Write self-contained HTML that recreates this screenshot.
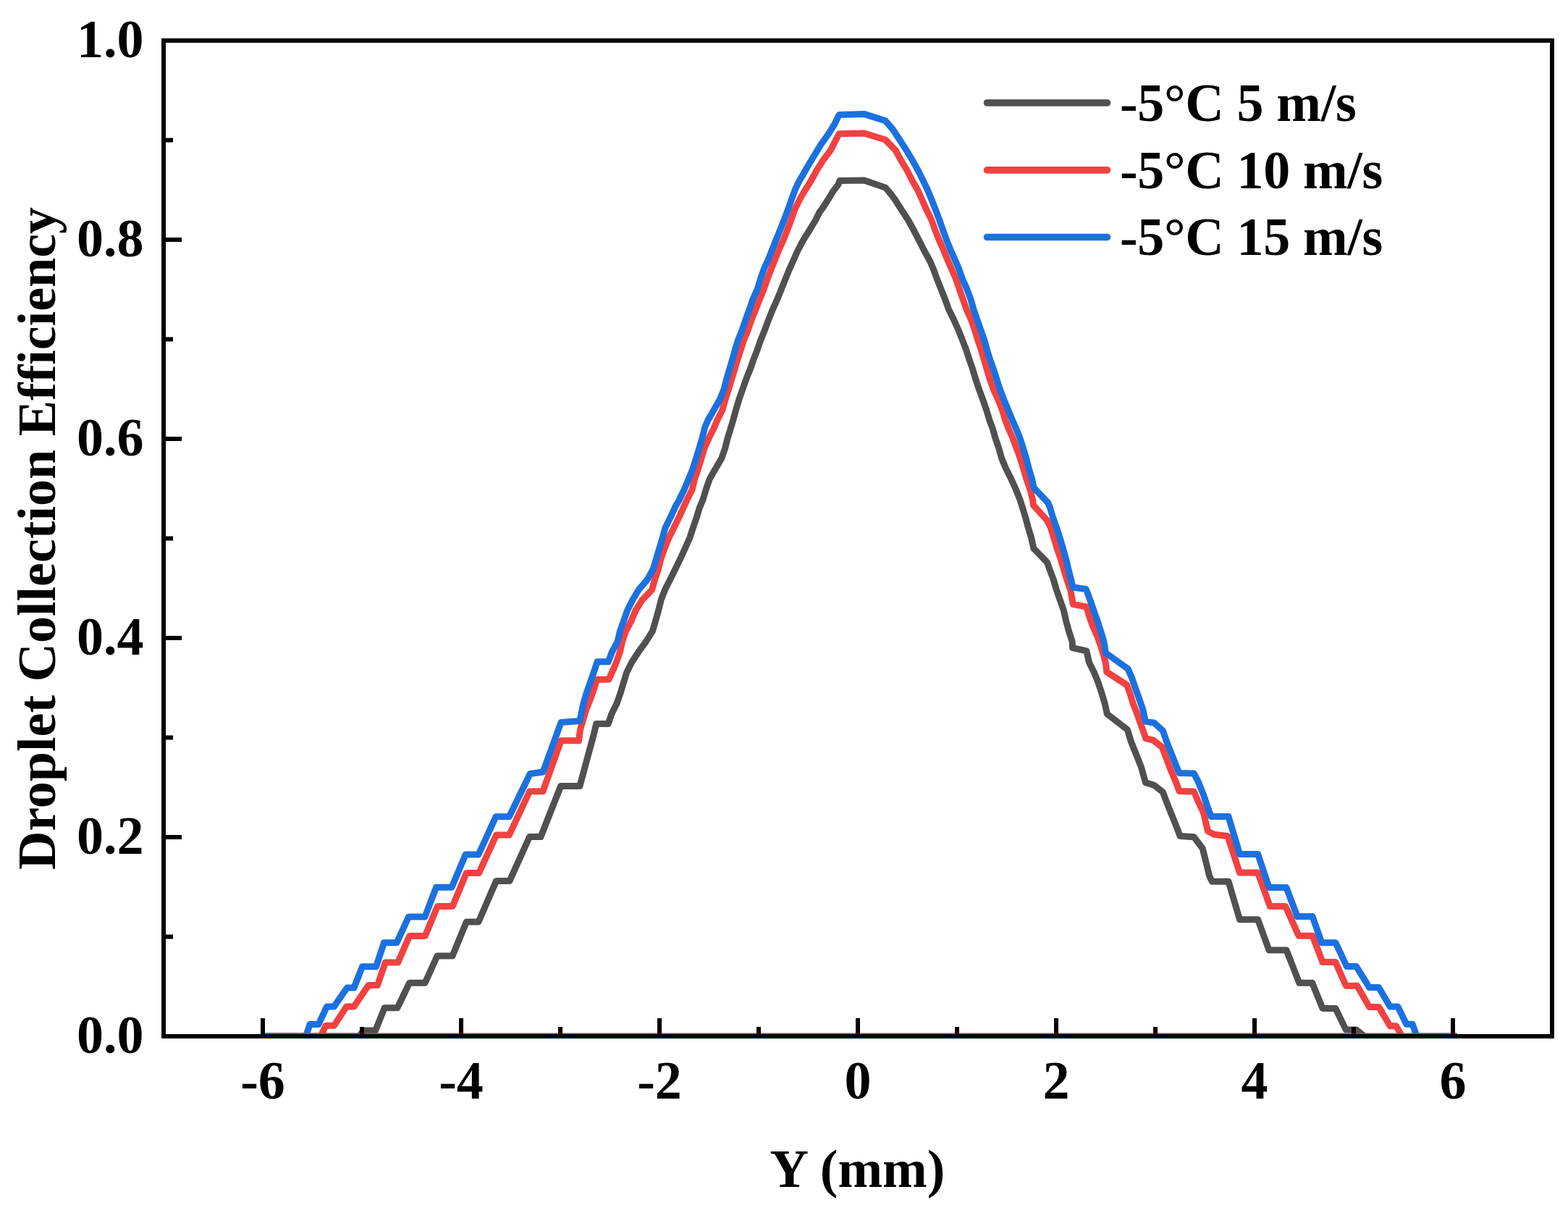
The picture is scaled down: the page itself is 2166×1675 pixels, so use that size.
<!DOCTYPE html><html><head><meta charset="utf-8"><style>html,body{margin:0;padding:0;background:#fff}svg{display:block}text{font-family:"Liberation Serif","Times New Roman",serif;font-weight:bold;fill:#000}</style></head><body>
<svg width="2166" height="1675" viewBox="0 0 2166 1675">
<rect width="2166" height="1675" fill="#fff"/>
<defs><clipPath id="pc"><rect x="226" y="56" width="1918" height="1375"/></clipPath></defs>
<g fill="none" clip-path="url(#pc)" stroke-width="9" stroke-linejoin="round" stroke-linecap="butt">
<polyline stroke="#505050" points="363.0,1431.0 496.0,1431.0 502.3,1423.1 518.6,1423.1 531.1,1391.8 548.9,1391.8 565.6,1357.2 587.2,1357.2 604.0,1320.0 625.0,1320.0 644.3,1273.0 661.0,1273.0 685.5,1216.4 704.0,1216.4 731.5,1155.5 747.0,1155.5 774.6,1085.5 800.9,1085.5 820.1,1014.6 823.7,999.6 840.2,999.6 844.8,986.0 852.0,971.6 857.0,957.3 861.3,943.0 865.6,928.7 872.7,914.5 882.0,900.2 892.4,886.0 901.3,871.6 905.6,857.3 909.6,843.0 913.1,828.7 918.5,814.3 925.7,800.2 932.7,786.0 939.8,771.6 946.3,757.3 952.7,743.0 957.4,728.7 962.4,714.3 966.0,702.0 970.9,690.3 975.2,676.0 980.2,661.6 988.4,647.3 996.7,633.0 1001.7,618.7 1005.3,604.3 1009.2,592.0 1012.7,580.3 1016.6,566.0 1020.9,551.6 1025.9,537.3 1030.9,523.0 1036.7,508.7 1041.7,494.3 1046.5,482.0 1050.5,470.3 1056.3,456.0 1061.6,441.6 1067.4,427.3 1073.8,413.0 1079.6,398.7 1085.3,384.3 1090.2,372.3 1095.6,360.3 1102.0,346.0 1109.6,331.6 1118.5,317.3 1127.1,303.0 1132.0,293.0 1135.5,288.5 1140.9,280.2 1146.3,271.8 1151.3,263.4 1157.8,255.1 1160.0,249.4 1193.6,249.0 1223.0,258.9 1229.0,266.0 1235.4,274.3 1244.7,288.7 1254.0,303.0 1261.9,317.3 1269.4,331.6 1276.6,346.0 1284.5,360.3 1289.6,372.3 1294.0,384.3 1299.7,398.7 1305.4,413.0 1310.5,427.3 1317.6,441.6 1324.1,456.0 1329.8,470.3 1334.4,482.3 1338.3,494.3 1343.3,508.7 1347.6,523.0 1352.3,537.3 1357.6,551.6 1362.6,566.0 1366.9,580.3 1371.5,592.3 1374.7,604.3 1379.7,618.7 1383.7,633.0 1389.7,647.3 1396.9,661.6 1403.4,676.0 1409.1,690.3 1412.9,702.3 1416.5,714.3 1420.4,728.7 1424.7,743.0 1427.9,757.3 1446.6,776.7 1449.8,786.0 1455.2,800.2 1459.3,814.3 1464.4,828.7 1469.4,843.0 1472.6,857.3 1476.5,871.6 1481.2,886.0 1481.6,894.6 1500.9,898.9 1504.3,914.3 1511.5,928.7 1517.2,943.0 1521.9,957.3 1526.2,971.6 1529.4,986.0 1557.3,1007.5 1560.6,1018.2 1562.1,1023.3 1569.3,1041.2 1576.4,1059.1 1582.4,1080.6 1594.3,1084.2 1606.3,1093.7 1612.2,1109.3 1619.4,1127.2 1626.6,1145.1 1630.1,1154.6 1649.3,1155.8 1661.2,1171.6 1667.2,1195.5 1670.7,1209.9 1674.3,1217.3 1697.0,1217.3 1712.5,1269.8 1737.6,1269.8 1753.0,1312.0 1777.0,1312.0 1794.8,1357.3 1812.7,1357.3 1827.0,1392.5 1844.9,1392.5 1859.3,1422.1 1873.6,1422.1 1885.0,1431.0"/>
<polyline stroke="#f24141" points="363.0,1431.0 443.0,1431.0 450.0,1416.3 461.5,1416.3 478.7,1389.9 489.0,1389.9 509.0,1360.6 521.5,1360.6 532.2,1329.1 549.7,1329.1 565.6,1292.5 587.2,1292.5 604.3,1251.6 625.2,1251.6 644.3,1205.6 661.6,1205.6 685.5,1153.1 703.4,1153.1 731.5,1092.8 750.0,1092.8 775.0,1022.8 799.5,1022.8 801.5,1007.5 805.8,993.1 810.1,978.8 815.9,964.5 820.9,950.2 824.4,938.3 840.9,938.3 847.0,925.0 851.5,914.3 856.5,900.0 859.5,886.0 864.5,871.6 872.0,857.3 878.0,843.0 887.0,828.7 900.6,814.3 904.7,800.0 909.4,786.0 913.0,771.6 918.0,757.3 923.8,743.0 930.9,728.7 938.0,714.3 944.0,701.0 949.0,690.3 956.2,676.0 959.5,661.6 964.5,647.3 968.8,633.0 973.1,618.7 979.5,604.3 985.8,592.0 990.8,580.3 998.0,566.0 1001.9,551.6 1006.6,537.3 1010.9,523.0 1015.2,508.7 1019.5,494.3 1023.5,482.0 1027.3,470.3 1033.1,456.0 1038.1,441.6 1043.8,427.3 1049.5,413.0 1055.3,398.7 1060.3,384.3 1065.0,372.3 1069.8,360.3 1075.5,346.0 1082.0,331.6 1087.7,317.3 1093.1,303.0 1098.1,288.7 1105.3,274.3 1112.5,262.0 1119.9,250.3 1127.8,236.0 1136.7,221.6 1147.5,207.3 1159.0,184.7 1193.6,184.0 1223.0,193.0 1236.9,207.3 1244.8,221.6 1253.4,236.0 1260.6,250.3 1268.0,263.0 1273.0,274.3 1279.4,288.7 1286.5,303.0 1291.6,317.3 1297.3,331.6 1303.7,346.0 1309.5,360.3 1314.8,372.3 1320.1,384.3 1325.1,398.7 1330.1,413.0 1335.1,427.3 1341.6,441.6 1346.6,456.0 1350.9,470.3 1355.1,482.3 1358.6,494.3 1362.9,508.7 1367.2,523.0 1372.2,537.3 1378.7,551.6 1384.4,566.0 1388.7,580.3 1393.4,592.3 1398.7,604.3 1404.1,618.7 1409.4,633.0 1413.7,647.3 1418.0,661.6 1423.0,676.0 1426.6,690.3 1427.4,697.5 1445.9,717.9 1451.5,728.7 1455.8,743.0 1460.1,757.3 1465.1,771.6 1469.4,786.0 1473.7,800.3 1478.6,814.3 1482.3,834.4 1500.9,838.0 1504.4,850.2 1509.4,864.5 1515.9,878.8 1520.9,893.1 1524.5,905.0 1527.5,916.0 1528.7,927.9 1556.6,945.9 1560.9,957.3 1565.2,971.6 1570.9,986.0 1575.9,1000.3 1581.0,1014.6 1582.8,1019.7 1593.1,1022.1 1605.1,1031.6 1609.9,1043.6 1617.0,1062.7 1624.2,1079.4 1629.0,1092.5 1649.3,1093.1 1655.2,1106.9 1662.4,1122.0 1668.5,1147.6 1676.7,1152.2 1695.8,1154.5 1712.5,1205.1 1737.6,1205.1 1754.3,1251.6 1775.8,1251.6 1794.0,1292.2 1813.0,1292.2 1827.0,1328.6 1844.9,1328.6 1859.3,1361.2 1874.8,1361.2 1891.5,1390.4 1904.6,1390.4 1920.1,1416.7 1928.5,1416.7 1937.0,1431.0"/>
<polyline stroke="#1b71df" points="363.0,1431.0 422.5,1431.0 428.0,1414.6 440.0,1414.6 451.5,1389.9 461.5,1389.9 479.4,1364.0 489.0,1364.0 500.5,1334.7 519.5,1334.7 530.5,1301.8 548.0,1301.8 564.5,1266.0 587.0,1266.0 602.5,1225.3 624.0,1225.3 643.1,1180.0 661.0,1180.0 684.9,1127.8 703.4,1127.8 732.2,1068.5 750.1,1066.0 775.0,997.5 801.0,995.5 805.8,971.6 810.1,957.3 815.1,943.0 820.1,928.7 825.0,913.8 840.2,913.8 845.4,900.3 853.0,886.0 856.5,871.6 861.6,857.3 866.6,843.0 873.7,828.7 882.3,814.3 894.5,800.0 902.2,786.0 906.5,771.6 910.8,757.3 915.1,743.0 919.0,728.7 926.2,714.3 932.7,700.0 938.3,690.3 945.1,676.0 951.2,661.6 956.9,647.3 961.6,633.0 965.9,618.7 970.2,604.3 973.7,590.0 977.9,580.3 986.1,566.0 994.4,551.6 1000.1,537.3 1003.7,523.0 1008.0,508.7 1012.3,494.3 1016.2,480.0 1019.3,470.3 1025.0,456.0 1030.0,441.6 1035.1,427.3 1040.1,413.0 1046.5,398.7 1050.8,384.3 1055.8,370.0 1060.5,360.3 1066.2,346.0 1071.9,331.6 1077.7,317.3 1083.4,303.0 1088.8,288.7 1093.8,274.3 1098.5,261.5 1104.0,250.0 1108.1,243.1 1116.3,228.8 1124.9,214.5 1133.5,200.2 1143.9,185.8 1152.8,171.5 1159.0,158.6 1193.6,157.4 1223.0,166.8 1233.4,178.7 1242.7,193.0 1252.0,207.3 1260.6,221.6 1268.5,236.0 1275.6,250.3 1281.0,261.5 1286.3,274.3 1292.0,288.7 1297.4,303.0 1302.4,317.3 1307.7,331.6 1313.5,346.0 1319.9,360.3 1325.0,372.3 1329.1,384.3 1335.5,398.7 1340.9,413.0 1344.9,427.3 1349.9,441.6 1354.9,456.0 1359.9,470.3 1363.2,482.3 1366.9,494.3 1372.0,508.7 1376.6,523.0 1381.3,537.3 1386.6,551.6 1392.7,566.0 1398.5,580.3 1403.9,592.3 1408.7,604.3 1413.4,618.7 1417.7,633.0 1421.3,647.3 1425.6,661.6 1428.1,673.5 1447.4,693.9 1450.2,700.0 1454.4,714.3 1459.5,728.7 1464.1,743.0 1468.4,757.3 1472.4,771.6 1475.9,786.0 1479.5,800.3 1482.0,811.0 1500.2,813.5 1505.9,828.7 1510.9,843.0 1515.9,857.3 1520.6,871.6 1524.9,886.0 1527.4,901.7 1558.1,923.6 1563.4,935.8 1568.4,950.2 1573.5,964.5 1578.5,978.8 1582.4,996.0 1594.3,998.2 1606.3,1009.0 1612.2,1025.7 1619.4,1043.6 1625.4,1059.1 1629.0,1067.5 1649.3,1068.1 1655.2,1079.4 1662.4,1097.3 1668.4,1115.2 1673.0,1127.5 1697.0,1127.5 1712.5,1179.4 1737.6,1179.4 1753.1,1225.6 1777.0,1225.6 1792.0,1265.6 1813.0,1265.6 1825.8,1301.7 1844.9,1301.7 1860.4,1334.6 1873.6,1334.6 1891.5,1363.6 1904.6,1363.6 1920.1,1390.1 1930.9,1390.1 1942.8,1414.3 1951.2,1414.3 1957.0,1431.0 2012.0,1431.0"/>
<line x1="363" y1="1431" x2="2013" y2="1431" stroke="#1b71df"/>
</g>
<rect x="226" y="56" width="1918" height="1375" fill="none" stroke="#000" stroke-width="6"/>
<path d="M363.0 1431V1406 M500.0 1431V1418 M637.0 1431V1406 M774.0 1431V1418 M911.0 1431V1406 M1048.0 1431V1418 M1185.0 1431V1406 M1322.0 1431V1418 M1459.0 1431V1406 M1596.0 1431V1418 M1733.0 1431V1406 M1870.0 1431V1418 M2007.0 1431V1406 M226 1431.0H251 M226 1293.5H239 M226 1156.0H251 M226 1018.5H239 M226 881.0H251 M226 743.5H239 M226 606.0H251 M226 468.5H239 M226 331.0H251 M226 193.5H239 M226 56.0H251" stroke="#000" stroke-width="6" fill="none"/>
<text x="198.5" y="1453.7" font-size="74" text-anchor="end">0.0</text>
<text x="198.5" y="1178.7" font-size="74" text-anchor="end">0.2</text>
<text x="198.5" y="903.7" font-size="74" text-anchor="end">0.4</text>
<text x="198.5" y="628.7" font-size="74" text-anchor="end">0.6</text>
<text x="198.5" y="353.7" font-size="74" text-anchor="end">0.8</text>
<text x="198.5" y="79.3" font-size="74" text-anchor="end">1.0</text>
<text x="363.0" y="1516.7" font-size="74" text-anchor="middle">-6</text>
<text x="637.0" y="1516.7" font-size="74" text-anchor="middle">-4</text>
<text x="911.0" y="1516.7" font-size="74" text-anchor="middle">-2</text>
<text x="1185.0" y="1516.7" font-size="74" text-anchor="middle">0</text>
<text x="1459.0" y="1516.7" font-size="74" text-anchor="middle">2</text>
<text x="1733.0" y="1516.7" font-size="74" text-anchor="middle">4</text>
<text x="2007.0" y="1516.7" font-size="74" text-anchor="middle">6</text>
<text x="1184.5" y="1639" font-size="74" text-anchor="middle">Y (mm)</text>
<text transform="translate(76 743.5) rotate(-90)" font-size="74" text-anchor="middle">Droplet Collection Efficiency</text>
<line x1="1363.5" y1="142.0" x2="1529.5" y2="142.0" stroke="#505050" stroke-width="9.6" stroke-linecap="round"/>
<text x="1547" y="167" font-size="74" letter-spacing="-0.33">-5°C 5 m/s</text>
<line x1="1363.5" y1="234.9" x2="1529.5" y2="234.9" stroke="#f24141" stroke-width="9.6" stroke-linecap="round"/>
<text x="1547" y="259.5" font-size="74" letter-spacing="-0.33">-5°C 10 m/s</text>
<line x1="1363.5" y1="327.5" x2="1529.5" y2="327.5" stroke="#1b71df" stroke-width="9.6" stroke-linecap="round"/>
<text x="1547" y="352.3" font-size="74" letter-spacing="-0.33">-5°C 15 m/s</text>
</svg></body></html>
